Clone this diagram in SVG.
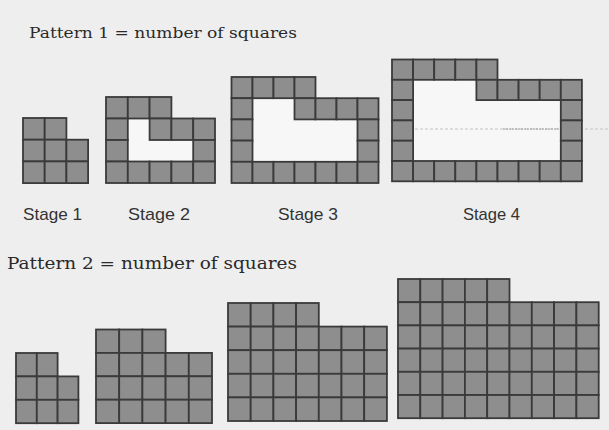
<svg xmlns="http://www.w3.org/2000/svg" xmlns:xlink="http://www.w3.org/1999/xlink" width="609" height="430" viewBox="0 0 609 430">
<style>
.c{fill:#8e8e8e;stroke:#3a3a3a;stroke-width:1.8}
.t{font-family:"DejaVu Serif","Liberation Serif",serif;fill:#2a2a2a}
.s{font-family:"Liberation Sans",Arial,sans-serif;font-size:17px;fill:#333}
.hole{fill:#f7f7f7}
</style>
<rect width="609" height="430" fill="#eeeeee"/>
<text class="t" x="29" y="38" font-size="15" textLength="268" lengthAdjust="spacingAndGlyphs">Pattern 1 = number of squares</text>
<text class="t" x="7" y="269" font-size="16" textLength="290" lengthAdjust="spacingAndGlyphs">Pattern 2 = number of squares</text>
<g id="labels">
<text class="s" x="23" y="220" textLength="59" lengthAdjust="spacingAndGlyphs">Stage 1</text>
<text class="s" x="128" y="220" textLength="62" lengthAdjust="spacingAndGlyphs">Stage 2</text>
<text class="s" x="278" y="220" textLength="60" lengthAdjust="spacingAndGlyphs">Stage 3</text>
<text class="s" x="463" y="220" textLength="57" lengthAdjust="spacingAndGlyphs">Stage 4</text>
</g>
<g id="p1s1" transform="translate(23,118)">
<rect class="c" x="0" y="0" width="21.7" height="21.7"/><rect class="c" x="21.7" y="0" width="21.7" height="21.7"/>
<rect class="c" x="0" y="21.7" width="21.7" height="21.7"/><rect class="c" x="21.7" y="21.7" width="21.7" height="21.7"/><rect class="c" x="43.4" y="21.7" width="21.7" height="21.7"/>
<rect class="c" x="0" y="43.4" width="21.7" height="21.7"/><rect class="c" x="21.7" y="43.4" width="21.7" height="21.7"/><rect class="c" x="43.4" y="43.4" width="21.7" height="21.7"/>
</g>
<g id="p1s2" transform="translate(106,97)">
<rect class="hole" x="21.8" y="21.5" width="65.4" height="43"/>
<rect class="c" x="0" y="0" width="21.8" height="21.5"/><rect class="c" x="21.8" y="0" width="21.8" height="21.5"/><rect class="c" x="43.6" y="0" width="21.8" height="21.5"/>
<rect class="c" x="0" y="21.5" width="21.8" height="21.5"/><rect class="c" x="43.6" y="21.5" width="21.8" height="21.5"/><rect class="c" x="65.4" y="21.5" width="21.8" height="21.5"/><rect class="c" x="87.2" y="21.5" width="21.8" height="21.5"/>
<rect class="c" x="0" y="43" width="21.8" height="21.5"/><rect class="c" x="87.2" y="43" width="21.8" height="21.5"/>
<rect class="c" x="0" y="64.5" width="21.8" height="21.5"/><rect class="c" x="21.8" y="64.5" width="21.8" height="21.5"/><rect class="c" x="43.6" y="64.5" width="21.8" height="21.5"/><rect class="c" x="65.4" y="64.5" width="21.8" height="21.5"/><rect class="c" x="87.2" y="64.5" width="21.8" height="21.5"/>
</g>
<g id="p1s3" transform="translate(231.5,77)">
<rect class="hole" x="21" y="21.2" width="105" height="63.6"/>
<rect class="c" x="0" y="0" width="21" height="21.2"/><rect class="c" x="21" y="0" width="21" height="21.2"/><rect class="c" x="42" y="0" width="21" height="21.2"/><rect class="c" x="63" y="0" width="21" height="21.2"/>
<rect class="c" x="0" y="21.2" width="21" height="21.2"/><rect class="c" x="63" y="21.2" width="21" height="21.2"/><rect class="c" x="84" y="21.2" width="21" height="21.2"/><rect class="c" x="105" y="21.2" width="21" height="21.2"/><rect class="c" x="126" y="21.2" width="21" height="21.2"/>
<rect class="c" x="0" y="42.4" width="21" height="21.2"/><rect class="c" x="126" y="42.4" width="21" height="21.2"/>
<rect class="c" x="0" y="63.6" width="21" height="21.2"/><rect class="c" x="126" y="63.6" width="21" height="21.2"/>
<rect class="c" x="0" y="84.8" width="21" height="21.2"/><rect class="c" x="21" y="84.8" width="21" height="21.2"/><rect class="c" x="42" y="84.8" width="21" height="21.2"/><rect class="c" x="63" y="84.8" width="21" height="21.2"/><rect class="c" x="84" y="84.8" width="21" height="21.2"/><rect class="c" x="105" y="84.8" width="21" height="21.2"/><rect class="c" x="126" y="84.8" width="21" height="21.2"/>
</g>
<g id="p1s4" transform="translate(392,59.5)">
<rect class="hole" x="21.1" y="20.3" width="147.7" height="81.2"/>
<line x1="23" y1="69.5" x2="217" y2="69.5" stroke="#c4c4c4" stroke-width="1" stroke-dasharray="3,2"/>
<line x1="111" y1="69.5" x2="185" y2="69.5" stroke="#9a9a9a" stroke-width="1.2" stroke-dasharray="2,1"/>
<rect class="c" x="0" y="0" width="21.1" height="20.3"/><rect class="c" x="21.1" y="0" width="21.1" height="20.3"/><rect class="c" x="42.2" y="0" width="21.1" height="20.3"/><rect class="c" x="63.3" y="0" width="21.1" height="20.3"/><rect class="c" x="84.4" y="0" width="21.1" height="20.3"/>
<rect class="c" x="0" y="20.3" width="21.1" height="20.3"/><rect class="c" x="84.4" y="20.3" width="21.1" height="20.3"/><rect class="c" x="105.5" y="20.3" width="21.1" height="20.3"/><rect class="c" x="126.6" y="20.3" width="21.1" height="20.3"/><rect class="c" x="147.7" y="20.3" width="21.1" height="20.3"/><rect class="c" x="168.8" y="20.3" width="21.1" height="20.3"/>
<rect class="c" x="0" y="40.6" width="21.1" height="20.3"/><rect class="c" x="168.8" y="40.6" width="21.1" height="20.3"/>
<rect class="c" x="0" y="60.9" width="21.1" height="20.3"/><rect class="c" x="168.8" y="60.9" width="21.1" height="20.3"/>
<rect class="c" x="0" y="81.2" width="21.1" height="20.3"/><rect class="c" x="168.8" y="81.2" width="21.1" height="20.3"/>
<rect class="c" x="0" y="101.5" width="21.1" height="20.3"/><rect class="c" x="21.1" y="101.5" width="21.1" height="20.3"/><rect class="c" x="42.2" y="101.5" width="21.1" height="20.3"/><rect class="c" x="63.3" y="101.5" width="21.1" height="20.3"/><rect class="c" x="84.4" y="101.5" width="21.1" height="20.3"/><rect class="c" x="105.5" y="101.5" width="21.1" height="20.3"/><rect class="c" x="126.6" y="101.5" width="21.1" height="20.3"/><rect class="c" x="147.7" y="101.5" width="21.1" height="20.3"/><rect class="c" x="168.8" y="101.5" width="21.1" height="20.3"/>
</g>
<g id="p2s1" transform="translate(16,353)">
<rect class="c" x="0" y="0" width="20.8" height="23.4"/><rect class="c" x="20.8" y="0" width="20.8" height="23.4"/>
<rect class="c" x="0" y="23.4" width="20.8" height="23.4"/><rect class="c" x="20.8" y="23.4" width="20.8" height="23.4"/><rect class="c" x="41.6" y="23.4" width="20.8" height="23.4"/>
<rect class="c" x="0" y="46.8" width="20.8" height="23.4"/><rect class="c" x="20.8" y="46.8" width="20.8" height="23.4"/><rect class="c" x="41.6" y="46.8" width="20.8" height="23.4"/>
</g>
<g id="p2s2" transform="translate(96,329.5)">
<rect class="c" x="0" y="0" width="23.2" height="23.4"/><rect class="c" x="23.2" y="0" width="23.2" height="23.4"/><rect class="c" x="46.4" y="0" width="23.2" height="23.4"/>
<rect class="c" x="0" y="23.4" width="23.2" height="23.4"/><rect class="c" x="23.2" y="23.4" width="23.2" height="23.4"/><rect class="c" x="46.4" y="23.4" width="23.2" height="23.4"/><rect class="c" x="69.6" y="23.4" width="23.2" height="23.4"/><rect class="c" x="92.8" y="23.4" width="23.2" height="23.4"/>
<rect class="c" x="0" y="46.8" width="23.2" height="23.4"/><rect class="c" x="23.2" y="46.8" width="23.2" height="23.4"/><rect class="c" x="46.4" y="46.8" width="23.2" height="23.4"/><rect class="c" x="69.6" y="46.8" width="23.2" height="23.4"/><rect class="c" x="92.8" y="46.8" width="23.2" height="23.4"/>
<rect class="c" x="0" y="70.2" width="23.2" height="23.4"/><rect class="c" x="23.2" y="70.2" width="23.2" height="23.4"/><rect class="c" x="46.4" y="70.2" width="23.2" height="23.4"/><rect class="c" x="69.6" y="70.2" width="23.2" height="23.4"/><rect class="c" x="92.8" y="70.2" width="23.2" height="23.4"/>
</g>
<g id="p2s3" transform="translate(228,303)">
<rect class="c" x="0" y="0" width="22.7" height="23.6"/><rect class="c" x="22.7" y="0" width="22.7" height="23.6"/><rect class="c" x="45.4" y="0" width="22.7" height="23.6"/><rect class="c" x="68.1" y="0" width="22.7" height="23.6"/>
<rect class="c" x="0" y="23.6" width="22.7" height="23.6"/><rect class="c" x="22.7" y="23.6" width="22.7" height="23.6"/><rect class="c" x="45.4" y="23.6" width="22.7" height="23.6"/><rect class="c" x="68.1" y="23.6" width="22.7" height="23.6"/><rect class="c" x="90.8" y="23.6" width="22.7" height="23.6"/><rect class="c" x="113.5" y="23.6" width="22.7" height="23.6"/><rect class="c" x="136.2" y="23.6" width="22.7" height="23.6"/>
<rect class="c" x="0" y="47.2" width="22.7" height="23.6"/><rect class="c" x="22.7" y="47.2" width="22.7" height="23.6"/><rect class="c" x="45.4" y="47.2" width="22.7" height="23.6"/><rect class="c" x="68.1" y="47.2" width="22.7" height="23.6"/><rect class="c" x="90.8" y="47.2" width="22.7" height="23.6"/><rect class="c" x="113.5" y="47.2" width="22.7" height="23.6"/><rect class="c" x="136.2" y="47.2" width="22.7" height="23.6"/>
<rect class="c" x="0" y="70.8" width="22.7" height="23.6"/><rect class="c" x="22.7" y="70.8" width="22.7" height="23.6"/><rect class="c" x="45.4" y="70.8" width="22.7" height="23.6"/><rect class="c" x="68.1" y="70.8" width="22.7" height="23.6"/><rect class="c" x="90.8" y="70.8" width="22.7" height="23.6"/><rect class="c" x="113.5" y="70.8" width="22.7" height="23.6"/><rect class="c" x="136.2" y="70.8" width="22.7" height="23.6"/>
<rect class="c" x="0" y="94.4" width="22.7" height="23.6"/><rect class="c" x="22.7" y="94.4" width="22.7" height="23.6"/><rect class="c" x="45.4" y="94.4" width="22.7" height="23.6"/><rect class="c" x="68.1" y="94.4" width="22.7" height="23.6"/><rect class="c" x="90.8" y="94.4" width="22.7" height="23.6"/><rect class="c" x="113.5" y="94.4" width="22.7" height="23.6"/><rect class="c" x="136.2" y="94.4" width="22.7" height="23.6"/>
</g>
<g id="p2s4" transform="translate(398,279)">
<rect class="c" x="0" y="0" width="22.3" height="23.2"/><rect class="c" x="22.3" y="0" width="22.3" height="23.2"/><rect class="c" x="44.6" y="0" width="22.3" height="23.2"/><rect class="c" x="66.9" y="0" width="22.3" height="23.2"/><rect class="c" x="89.2" y="0" width="22.3" height="23.2"/>
<rect class="c" x="0" y="23.2" width="22.3" height="23.2"/><rect class="c" x="22.3" y="23.2" width="22.3" height="23.2"/><rect class="c" x="44.6" y="23.2" width="22.3" height="23.2"/><rect class="c" x="66.9" y="23.2" width="22.3" height="23.2"/><rect class="c" x="89.2" y="23.2" width="22.3" height="23.2"/><rect class="c" x="111.5" y="23.2" width="22.3" height="23.2"/><rect class="c" x="133.8" y="23.2" width="22.3" height="23.2"/><rect class="c" x="156.1" y="23.2" width="22.3" height="23.2"/><rect class="c" x="178.4" y="23.2" width="22.3" height="23.2"/>
<rect class="c" x="0" y="46.4" width="22.3" height="23.2"/><rect class="c" x="22.3" y="46.4" width="22.3" height="23.2"/><rect class="c" x="44.6" y="46.4" width="22.3" height="23.2"/><rect class="c" x="66.9" y="46.4" width="22.3" height="23.2"/><rect class="c" x="89.2" y="46.4" width="22.3" height="23.2"/><rect class="c" x="111.5" y="46.4" width="22.3" height="23.2"/><rect class="c" x="133.8" y="46.4" width="22.3" height="23.2"/><rect class="c" x="156.1" y="46.4" width="22.3" height="23.2"/><rect class="c" x="178.4" y="46.4" width="22.3" height="23.2"/>
<rect class="c" x="0" y="69.6" width="22.3" height="23.2"/><rect class="c" x="22.3" y="69.6" width="22.3" height="23.2"/><rect class="c" x="44.6" y="69.6" width="22.3" height="23.2"/><rect class="c" x="66.9" y="69.6" width="22.3" height="23.2"/><rect class="c" x="89.2" y="69.6" width="22.3" height="23.2"/><rect class="c" x="111.5" y="69.6" width="22.3" height="23.2"/><rect class="c" x="133.8" y="69.6" width="22.3" height="23.2"/><rect class="c" x="156.1" y="69.6" width="22.3" height="23.2"/><rect class="c" x="178.4" y="69.6" width="22.3" height="23.2"/>
<rect class="c" x="0" y="92.8" width="22.3" height="23.2"/><rect class="c" x="22.3" y="92.8" width="22.3" height="23.2"/><rect class="c" x="44.6" y="92.8" width="22.3" height="23.2"/><rect class="c" x="66.9" y="92.8" width="22.3" height="23.2"/><rect class="c" x="89.2" y="92.8" width="22.3" height="23.2"/><rect class="c" x="111.5" y="92.8" width="22.3" height="23.2"/><rect class="c" x="133.8" y="92.8" width="22.3" height="23.2"/><rect class="c" x="156.1" y="92.8" width="22.3" height="23.2"/><rect class="c" x="178.4" y="92.8" width="22.3" height="23.2"/>
<rect class="c" x="0" y="116" width="22.3" height="23.2"/><rect class="c" x="22.3" y="116" width="22.3" height="23.2"/><rect class="c" x="44.6" y="116" width="22.3" height="23.2"/><rect class="c" x="66.9" y="116" width="22.3" height="23.2"/><rect class="c" x="89.2" y="116" width="22.3" height="23.2"/><rect class="c" x="111.5" y="116" width="22.3" height="23.2"/><rect class="c" x="133.8" y="116" width="22.3" height="23.2"/><rect class="c" x="156.1" y="116" width="22.3" height="23.2"/><rect class="c" x="178.4" y="116" width="22.3" height="23.2"/>
</g>
<g id="connectors"/>
</svg>
